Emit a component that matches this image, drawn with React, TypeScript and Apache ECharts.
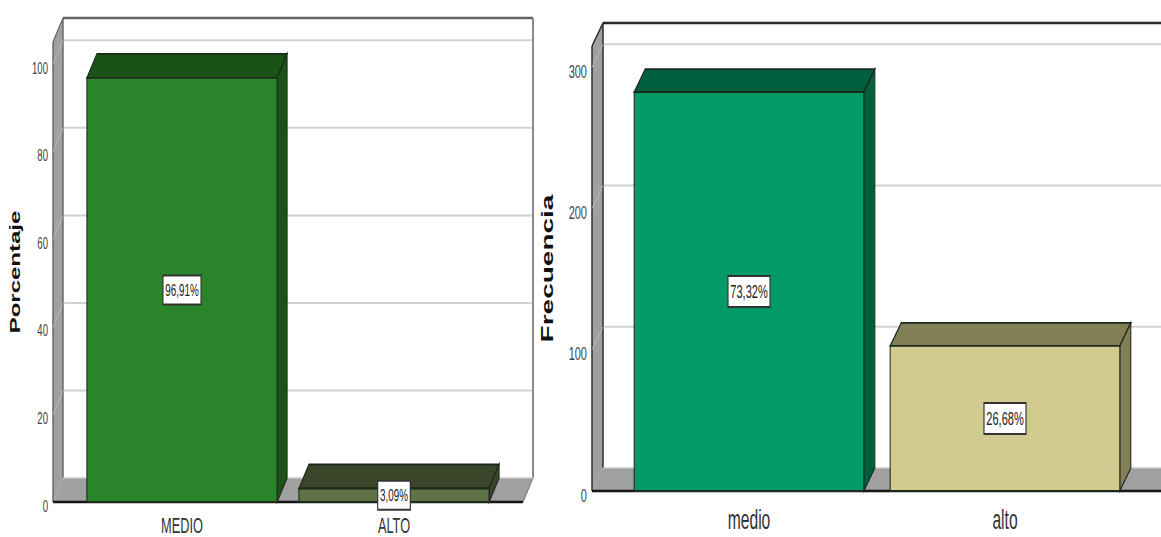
import React, { useEffect, useRef } from "react";
import * as echarts from "echarts";

// The whole figure is laid out on a wider canvas and squeezed horizontally.
const SQUEEZE = 0.58;
const PAGE_W = 1161;
const PAGE_H = 537;

const levelsLeft = ["MEDIO", "ALTO"];
const percentValues = [96.91, 3.09];
const percentLabels = ["96,91%", "3,09%"];
const percentTicks = [0, 20, 40, 60, 80, 100];
const percentFaces = ["#2a852a", "#5e7245"];
const percentTops = ["#1a5218", "#3b4529"];

const levelsRight = ["medio", "alto"];
const frequencyValues = [282.3, 102.7];
const frequencyLabels = ["73,32%", "26,68%"];
const frequencyTicks = [0, 100, 200, 300];
const frequencyFaces = ["#029a66", "#d1cb8f"];
const frequencyTops = ["#025f3d", "#837f57"];

const FONT = "'Liberation Sans', Arial, sans-serif";
const sx = (px: number) => px / SQUEEZE;

type Panel = {
  gridIndex: number;
  left: number;
  right: number;
  top: number;
  bottom: number;
  wallLeft: number;
  wallRight: number;
  depthX: number;
  depthY: number;
  frame: string;
  categories: string[];
  values: number[];
  labels: string[];
  ticks: number[];
  faces: string[];
  tops: string[];
  max: number;
  interval: number;
  title: string;
  titleSize: number;
  titleGap: number;
  tickSize: number;
  tickGap: number;
  catSize: number;
  catGap: number;
  valueSize: number;
};

const panels: Panel[] = [
  {
    gridIndex: 0,
    left: 76,
    right: 500,
    top: 42,
    bottom: 503,
    wallLeft: 53,
    wallRight: 523,
    depthX: 10,
    depthY: -24,
    frame: "#666666",
    categories: levelsLeft,
    values: percentValues,
    labels: percentLabels,
    ticks: percentTicks,
    faces: percentFaces,
    tops: percentTops,
    max: 105.1,
    interval: 20,
    title: "Porcentaje",
    titleSize: 24,
    titleGap: 54,
    tickSize: 16.5,
    tickGap: 28,
    catSize: 22,
    catGap: 13,
    valueSize: 17,
  },
  {
    gridIndex: 1,
    left: 621,
    right: 1133,
    top: 46,
    bottom: 491,
    wallLeft: 592,
    wallRight: 1162,
    depthX: 11,
    depthY: -23,
    frame: "#2a2a2a",
    categories: levelsRight,
    values: frequencyValues,
    labels: frequencyLabels,
    ticks: frequencyTicks,
    faces: frequencyFaces,
    tops: frequencyTops,
    max: 315,
    interval: 100,
    title: "Frecuencia",
    titleSize: 28,
    titleGap: 66,
    tickSize: 19,
    tickGap: 34,
    catSize: 27,
    catGap: 15,
    valueSize: 19,
  },
];

const poly = (points: number[][], fill: string, stroke = "none", lineWidth = 0) => ({
  type: "polygon",
  shape: { points },
  style: { fill, stroke, lineWidth },
});

const seg = (x1: number, y1: number, x2: number, y2: number, stroke: string, lineWidth: number) => ({
  type: "line",
  shape: { x1, y1, x2, y2 },
  style: { stroke, lineWidth, fill: "none" },
});

// Side wall, floor and the frame lines of the 3D box.
function wallSeries(p: Panel) {
  return {
    type: "custom",
    xAxisIndex: p.gridIndex,
    yAxisIndex: p.gridIndex,
    z: 1,
    silent: true,
    data: [[0, 0]],
    renderItem: (_: any, api: any) => {
      const base = api.coord([0, 0])[1];
      const top = api.coord([0, p.max])[1];
      const lx = sx(p.wallLeft);
      const rx = sx(p.wallRight);
      const dx = sx(p.depthX);
      const dy = p.depthY;
      return {
        type: "group",
        children: [
          poly([[lx, top], [lx + dx, top + dy], [lx + dx, base + dy], [lx, base]], "#a0a0a0"),
          poly([[lx, base], [lx + dx, base + dy], [rx + dx, base + dy], [rx, base]], "#a0a0a0"),
          seg(lx, top, lx + dx, top + dy, p.frame, 2),
          seg(lx, top, lx, base, p.frame, 2.5),
          seg(lx + dx, top + dy, lx + dx, base + dy, p.frame, 2.5),
          seg(lx + dx, top + dy, rx + dx, top + dy, p.frame, 2.5),
          seg(rx + dx, top + dy, rx + dx, base + dy, "#7a7a7a", 3),
          seg(rx + dx, base + dy, rx, base, "#7a7a7a", 1.5),
          seg(lx + dx, base + dy, rx + dx, base + dy, "#c8c8c8", 1.5),
          seg(lx, base, rx, base, "#151515", 2.5),
        ],
      };
    },
  };
}

// Gridlines run along the back wall, with a faint diagonal on the side wall.
function gridSeries(p: Panel) {
  return {
    type: "custom",
    xAxisIndex: p.gridIndex,
    yAxisIndex: p.gridIndex,
    z: 2,
    silent: true,
    data: p.ticks.slice(1).map((t) => [0, t]),
    renderItem: (_: any, api: any) => {
      const y = api.coord([0, api.value(1)])[1];
      const lx = sx(p.wallLeft);
      const rx = sx(p.wallRight);
      const dx = sx(p.depthX);
      return {
        type: "group",
        children: [
          seg(lx + dx + 2, y + p.depthY, rx + dx - 2, y + p.depthY, "#d2d2d2", 2),
          seg(lx, y, lx + dx, y + p.depthY, "#bdbdbd", 1),
        ],
      };
    },
  };
}

// Extruded bars with their percentage tag centred on the front face.
function barSeries(p: Panel) {
  return {
    type: "custom",
    xAxisIndex: p.gridIndex,
    yAxisIndex: p.gridIndex,
    z: 3,
    data: p.values.map((v, i) => [i, v]),
    encode: { x: 0, y: 1 },
    renderItem: (params: any, api: any) => {
      const i = params.dataIndex;
      const value = api.value(1);
      const [cx, yTop] = api.coord([i, value]);
      const yBase = api.coord([i, 0])[1];
      const half = (api.size([1, 0])[0] * 0.897) / 2;
      const l = cx - half;
      const r = cx + half;
      const dx = sx(p.depthX);
      const dy = p.depthY;
      const edge = "#1c2a1c";
      return {
        type: "group",
        children: [
          poly([[l, yTop], [l + dx, yTop + dy], [r + dx, yTop + dy], [r, yTop]], p.tops[i], edge, 1.8),
          poly([[r, yTop], [r + dx, yTop + dy], [r + dx, yBase + dy], [r, yBase]], p.tops[i], edge, 1.8),
          poly([[l, yTop], [r, yTop], [r, yBase], [l, yBase]], p.faces[i], edge, 1.8),
          {
            type: "text",
            x: cx,
            y: (yTop + yBase) / 2,
            style: {
              text: p.labels[i],
              x: 0,
              y: 0,
              align: "center",
              verticalAlign: "middle",
              fill: "#222222",
              font: `${p.valueSize}px ${FONT}`,
              backgroundColor: "#ffffff",
              borderColor: "#333333",
              borderWidth: 2,
              padding: [5, 3, 5, 3],
            },
          },
        ],
      };
    },
  };
}

export default function App() {
  const ref = useRef<HTMLDivElement>(null);

  useEffect(() => {
    document.body.style.margin = "0";
    const chart = echarts.init(ref.current!, undefined, { renderer: "svg" });
    const width = sx(PAGE_W);
    chart.setOption({
      animation: false,
      backgroundColor: "#ffffff",
      grid: panels.map((p) => ({
        left: sx(p.left),
        top: p.top,
        width: sx(p.right - p.left),
        height: p.bottom - p.top,
      })),
      xAxis: panels.map((p) => ({
        type: "category",
        gridIndex: p.gridIndex,
        data: p.categories,
        axisLine: { show: false },
        axisTick: { show: false },
        axisLabel: {
          margin: p.catGap,
          color: "#333333",
          fontFamily: FONT,
          fontSize: p.catSize,
        },
        z: 5,
      })),
      yAxis: panels.map((p) => ({
        type: "value",
        gridIndex: p.gridIndex,
        min: 0,
        max: p.max,
        interval: p.interval,
        name: p.title,
        nameLocation: "middle",
        nameGap: sx(p.titleGap),
        nameTextStyle: {
          color: "#111111",
          fontFamily: FONT,
          fontWeight: "bold",
          fontSize: p.titleSize,
        },
        splitLine: { show: false },
        axisLine: { show: false },
        axisTick: { show: false },
        axisLabel: {
          margin: sx(p.tickGap),
          showMaxLabel: false,
          formatter: "{t|{value}}",
          // Tick numbers sit a little below their value on the front plane.
          rich: {
            t: {
              color: "#444444",
              fontFamily: FONT,
              fontSize: p.tickSize,
              padding: [8, 0, 0, 0],
            },
          },
        },
        z: 5,
      })),
      series: panels.flatMap((p) => [wallSeries(p), gridSeries(p), barSeries(p)]),
    });
    chart.resize({ width, height: PAGE_H });
    return () => chart.dispose();
  }, []);

  return (
    <div style={{ width: PAGE_W, height: PAGE_H, overflow: "hidden" }}>
      <div
        ref={ref}
        style={{
          width: sx(PAGE_W),
          height: PAGE_H,
          transform: `scaleX(${SQUEEZE})`,
          transformOrigin: "0 0",
        }}
      />
    </div>
  );
}
